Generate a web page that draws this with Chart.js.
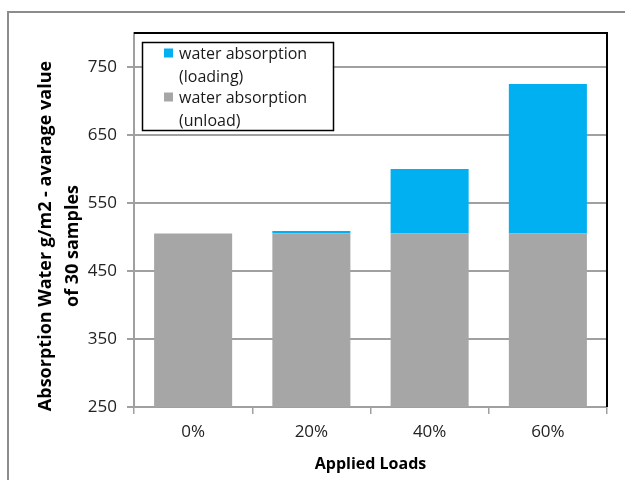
<!DOCTYPE html>
<html>
<head>
<meta charset="utf-8">
<script src="https://cdn.jsdelivr.net/npm/chart.js@4.4.1/dist/chart.umd.min.js"></script>
<style>
  body { margin: 0; background: #fff; }
  canvas { display: block; }
</style>
</head>
<body>
<canvas id="load-chart" width="625" height="480"></canvas>
<script>
// applied loads and averaged water absorption (g/m2)
const loads = ['0%', '20%', '40%', '60%'];
const unloadValues = [505, 505, 505, 505];
const loadingValues = [0, 4, 95, 220];
const yTicks = [250, 350, 450, 550, 650, 750];

const blue = '#00b0f0';
const gray = '#a6a6a6';
const axisGray = '#a0a0a0';
const fontFamily = '"Open Sans", Lato, sans-serif';

// legend entries, top to bottom, each label split over two lines
const legendItems = [
    {color: blue, lines: ['water absorption', '(loading)']},
    {color: gray, lines: ['water absorption', '(unload)']},
];

//Frame lines, plot border, legend box and the rotated y title
const decorations = {
    id: 'decorations',
    afterDraw(chart) {
        const ctx = chart.ctx;
        const area = chart.chartArea;
        ctx.save();

        // outer frame (left and top edge)
        ctx.strokeStyle = '#8c8c8c';
        ctx.lineWidth = 2;
        ctx.beginPath();
        ctx.moveTo(8, 480);
        ctx.lineTo(8, 12);
        ctx.lineTo(625, 12);
        ctx.stroke();

        // black top and right edge of the plot area
        ctx.strokeStyle = '#000';
        ctx.lineWidth = 2;
        ctx.beginPath();
        ctx.moveTo(area.left, area.top);
        ctx.lineTo(area.right, area.top);
        ctx.lineTo(area.right, area.bottom);
        ctx.stroke();

        // legend
        ctx.fillStyle = '#fff';
        ctx.fillRect(142, 42, 191, 88);
        ctx.strokeStyle = '#000';
        ctx.lineWidth = 1.5;
        ctx.strokeRect(142.5, 42.5, 191, 88);
        ctx.font = '16px ' + fontFamily;
        ctx.textBaseline = 'middle';
        ctx.textAlign = 'left';
        let y = 53;
        legendItems.forEach((item) => {
            ctx.fillStyle = item.color;
            ctx.fillRect(164, y - 4.5, 9, 9);
            ctx.fillStyle = '#1a1a1a';
            item.lines.forEach((line, i) => {
                ctx.fillText(line, 179, y + 1 + i * 23);
            });
            y += 44;
        });

        // y axis title, two lines
        ctx.translate(46, 236);
        ctx.rotate(-Math.PI / 2);
        ctx.font = 'bold 18px ' + fontFamily;
        ctx.fillStyle = '#000';
        ctx.textAlign = 'center';
        ctx.fillText('Absorption Water g/m2 - avarage value', 0, 0);
        ctx.fillText('of 30 samples', -10, 27);

        ctx.restore();
    }
};

var ctx = document.getElementById('load-chart').getContext('2d');
new Chart(ctx, {
    type: 'bar',
    data: {
        labels: loads,
        datasets: [
            {
                label: 'water absorption (unload)',
                data: unloadValues,
                backgroundColor: gray,
                categoryPercentage: 1,
                barPercentage: 0.66,
            },
            {
                label: 'water absorption (loading)',
                data: loadingValues,
                backgroundColor: blue,
                categoryPercentage: 1,
                barPercentage: 0.66,
            }
        ]
    },
    options: {
        responsive: false,
        animation: false,
        layout: {padding: {left: 0, top: 33, right: 18, bottom: 0}},
        plugins: {
            legend: {display: false},
            tooltip: {enabled: false},
        },
        scales: {
            x: {
                stacked: true,
                afterFit: (scale) => { scale.height = 73; },
                grid: {
                    offset: true,
                    drawOnChartArea: false,
                    color: axisGray,
                    lineWidth: 1.5,
                    tickLength: 7,
                },
                border: {color: axisGray, width: 2},
                ticks: {
                    color: '#222',
                    padding: 8,
                    font: {family: fontFamily, size: 17},
                },
                title: {
                    display: true,
                    text: 'Applied Loads',
                    color: '#000',
                    font: {family: fontFamily, size: 16, weight: 'bold'},
                    padding: {top: 0, bottom: 6},
                },
            },
            y: {
                stacked: true,
                min: 250,
                max: 800,
                afterFit: (scale) => { scale.width = 134; },
                afterBuildTicks: (scale) => {
                    scale.ticks = yTicks.map((v) => ({value: v}));
                },
                grid: {
                    color: axisGray,
                    lineWidth: 2,
                    tickLength: 7,
                },
                border: {color: axisGray, width: 2},
                ticks: {
                    color: '#222',
                    padding: 10,
                    font: {family: fontFamily, size: 17},
                },
            }
        }
    },
    plugins: [decorations]
});
</script>
</body>
</html>
